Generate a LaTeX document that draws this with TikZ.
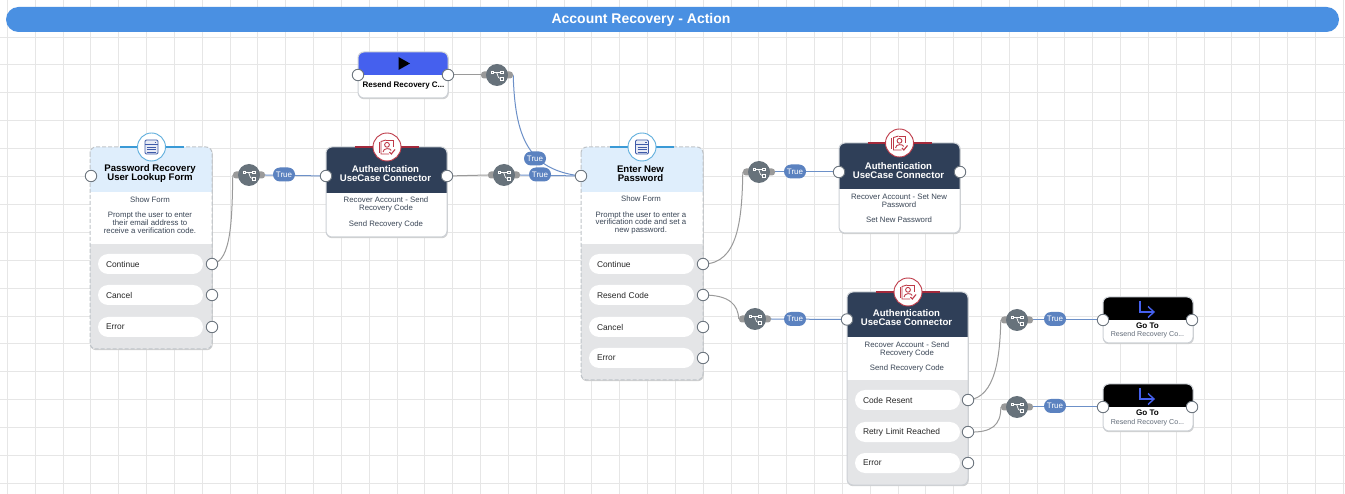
\documentclass[tikz,border=0pt]{standalone}
\usepackage{fontspec}
\setmainfont{Liberation Sans}
\usetikzlibrary{backgrounds}
\definecolor{gridc}{HTML}{E6E6E6}
\definecolor{barc}{HTML}{4A90E2}
\definecolor{formhdr}{HTML}{DFEEFC}
\definecolor{darkhdr}{HTML}{2F3F58}
\definecolor{bandc}{HTML}{E4E5E7}
\definecolor{edgec}{HTML}{CDD1D6}
\definecolor{dashc}{HTML}{BFC4C9}
\definecolor{portc}{HTML}{6E7780}
\definecolor{switchc}{HTML}{67727B}
\definecolor{stubc}{HTML}{9A9A9A}
\definecolor{wireg}{HTML}{9A9A9A}
\definecolor{wireb}{HTML}{6C90C8}
\definecolor{truec}{HTML}{5B82C0}
\definecolor{iconblue}{HTML}{3F5BA9}
\definecolor{ringblue}{HTML}{5FAEDC}
\definecolor{barblue}{HTML}{3A9AD6}
\definecolor{iconred}{HTML}{BE3A48}
\definecolor{barred}{HTML}{A32A3C}
\definecolor{startc}{HTML}{4560EE}
\definecolor{txt}{HTML}{3A4656}
\pgfdeclarelayer{gridlayer}
\pgfdeclarelayer{wirelayer}
\pgfsetlayers{gridlayer,wirelayer,main}
\tikzset{
  px/.style={x=1pt,y=-1pt},
  portst/.style={circle,draw=portc,fill=white,line width=0.9pt,minimum size=11.5pt,inner sep=0pt},
  pillst/.style={fill=white,rounded corners=10pt,minimum width=105pt,minimum height=20pt,inner ysep=0pt,inner xsep=8pt,text width=89pt,align=left,font=\fontsize{8.4}{9}\selectfont,text=black!85},
  truest/.style={fill=truec,rounded corners=7pt,minimum width=22pt,minimum height=14pt,inner sep=0pt,text=white,font=\fontsize{8}{9}\selectfont},
  stubst/.style={fill=stubc,rounded corners=3pt,minimum width=32pt,minimum height=7pt,inner sep=0pt},
  swst/.style={circle,fill=switchc,minimum size=22pt,inner sep=0pt},
  ringst/.style={circle,fill=white,draw=#1,line width=0.9pt,minimum size=28pt,inner sep=0pt},
  titlest/.style={align=center,inner sep=0pt,font=\fontsize{9.6}{9}\bfseries\selectfont},
  descst/.style={align=center,inner sep=0pt,text=txt,font=\fontsize{7.8}{7.8}\selectfont},
  wireg/.style={draw=wireg,line width=1pt},
  wireb/.style={draw=wireb,line width=1pt},
}
% name, x1, y1, x2, y2, header colour, header bottom, band top, border style
\newcommand\cardbox[9]{%
  \node[inner sep=0pt,minimum width={#4-#2},minimum height={#5-#3}] (#1) at ({(#2+#4)/2},{(#3+#5)/2}) {};
  \fill[black!18,rounded corners=6pt] (#2,#3+1) rectangle (#4+0.8,#5+1.2);
  \begin{scope}
    \clip[rounded corners=6pt] (#2,#3) rectangle (#4,#5);
    \fill[white] (#2,#3) rectangle (#4,#5);
    \fill[#6] (#2,#3) rectangle (#4,#7);
    \fill[bandc] (#2,#8) rectangle (#4,#5);
  \end{scope}
  \draw[rounded corners=6pt,#9] (#2,#3) rectangle (#4,#5);
}
\newcommand\sw[3]{%
  \node[stubst] (#1-s) at (#2,#3) {};
  \node[swst] (#1) at (#2,#3) {};
  \begin{scope}[shift={(#2,#3)},white,line width=0.7pt]
    \draw (-3.5,-2.6) -- (3.5,-2.6);
    \draw (-1,-2.6) .. controls (1,-2.6) and (0,3.6) .. (3.5,3.6);
    \fill[switchc] (-6,-4) rectangle (-3.2,-1.2);
    \draw (-6,-4) rectangle (-3.2,-1.2);
    \fill[switchc] (3.2,-4) rectangle (6,-1.2);
    \draw (3.2,-4) rectangle (6,-1.2);
    \fill[switchc] (3.2,2.2) rectangle (6,5);
    \draw (3.2,2.2) rectangle (6,5);
  \end{scope}
}
\newcommand\formicon[3]{%
  \draw[barblue,line width=2pt] (#2-32,#3) -- (#2+32,#3);
  \node[ringst=ringblue] (#1) at (#2,#3) {};
  \begin{scope}[shift={(#2,#3)},iconblue,line width=0.9pt]
    \fill[iconblue!12,rounded corners=1.2pt] (-6.5,-7) rectangle (6.5,7);
    \draw[rounded corners=1.2pt] (-6.5,-7) rectangle (6.5,7);
    \draw (-6.5,-3) -- (6.5,-3);
    \draw (3,-5) -- (4.6,-5);
    \draw (-4.5,0) -- (4.5,0);
    \draw (-4.5,2.5) -- (4.5,2.5);
    \draw (-4.5,5) -- (4.5,5);
  \end{scope}
}
\newcommand\authicon[3]{%
  \draw[barred,line width=2pt] (#2-32,#3) -- (#2+32,#3);
  \node[ringst=iconred] (#1) at (#2,#3) {};
  \begin{scope}[shift={(#2,#3)},iconred,line width=0.9pt]
    \draw (-1,-7) -- (6,-7) -- (6,0);
    \draw (-1,-7) -- (-6,-5.5) -- (-6,7) -- (2,7);
    \draw (-8,-5) -- (-8,6.5);
    \draw (0,-2.2) circle (2.4);
    \draw (-4,5) .. controls (-4,0.8) and (4,0.8) .. (4.2,3.5);
    \draw[line width=1.1pt] (2.5,5) -- (4.3,7) -- (8,2.5);
  \end{scope}
}
\newcommand\gotoarrow[2]{%
  \begin{scope}[shift={(#1,#2)},draw=startc,line width=1.4pt]
    \draw (-7,-11) -- (-7,0) -- (6.5,0);
    \draw (1,-5.5) -- (7,0) -- (1,5.5);
  \end{scope}
}
\begin{document}
\begin{tikzpicture}[px]
\useasboundingbox (0,0) rectangle (1345,494);
\begin{pgfonlayer}{gridlayer}
  \fill[white] (0,0) rectangle (1345,494);
  \foreach \k in {0,...,48} {\draw[gridc,line width=0.9pt] ({7.4+27.83*\k},0) -- ({7.4+27.83*\k},494);}
  \foreach \k in {0,...,16} {\draw[gridc,line width=0.9pt] (0,{37+27.9*\k}) -- (1345,{37+27.9*\k});}
\end{pgfonlayer}

% title bar
\node[fill=barc,rounded corners=12.5pt,minimum width=1333pt,minimum height=25pt,inner sep=0pt] (banner) at (672.5,19.5) {};
\node[text=white,inner sep=0pt,font=\fontsize{14}{15}\bfseries\selectfont] (bannertext) at (641,19.5) {Account Recovery - Action};

% form 1
\cardbox{formA}{90}{147}{212}{349}{formhdr}{192}{244}{draw=dashc,line width=1pt,dash pattern=on 4pt off 2pt}
\formicon{formAicon}{151.5}{147}
\node[titlest] (formAtitle) at (150,173.5) {Password Recovery\\User Lookup Form};
\node[descst] (formAdesc) at (150,215) {Show Form\\[7.8pt]Prompt the user to enter\\their email address to\\receive a verification code.};
\node[pillst] (formAp1) at (150.5,264) {Continue};
\node[pillst] (formAp2) at (150.5,295) {Cancel};
\node[pillst] (formAp3) at (150.5,327) {Error};
\node[portst] (formAin) at (91,176) {};
\node[portst] (formAo1) at (212,264) {};
\node[portst] (formAo2) at (212,295) {};
\node[portst] (formAo3) at (212,327) {};

% connector 1
\cardbox{authA}{326}{147}{447}{237}{darkhdr}{193}{237}{draw=edgec,line width=1pt}
\authicon{authAicon}{387}{147}
\node[titlest,text=white] (authAtitle) at (385.5,173.5) {Authentication\\UseCase Connector};
\node[descst] (authAdesc) at (386,212.5) {Recover Account - Send\\Recovery Code\\[7.8pt]Send Recovery Code};
\node[portst] (authAin) at (326,176) {};
\node[portst] (authAout) at (447,176) {};

% start
\cardbox{start}{358}{52}{448}{98}{startc}{75}{98}{draw=edgec,line width=1pt}
\fill[black] (398.5,57) -- (410,63.5) -- (398.5,70) -- cycle;
\node[inner sep=0pt,font=\fontsize{8}{9}\bfseries\selectfont] (starttext) at (403.5,85) {Resend Recovery C...};
\node[portst] (startin) at (358,75) {};
\node[portst] (startout) at (448,75) {};

% form 2
\cardbox{formB}{581}{147}{703}{380}{formhdr}{192}{244}{draw=dashc,line width=1pt,dash pattern=on 4pt off 2pt}
\formicon{formBicon}{642}{147}
\node[titlest] (formBtitle) at (640.5,173.5) {Enter New\\Password};
\node[descst] (formBdesc) at (641,215) {Show Form\\[7.8pt]Prompt the user to enter a\\verification code and set a\\new password.};
\node[pillst] (formBp1) at (641.5,264) {Continue};
\node[pillst] (formBp2) at (641.5,295) {Resend Code};
\node[pillst] (formBp3) at (641.5,327) {Cancel};
\node[pillst] (formBp4) at (641.5,358) {Error};
\node[portst] (formBin) at (581,176) {};
\node[portst] (formBo1) at (703,264) {};
\node[portst] (formBo2) at (703,295) {};
\node[portst] (formBo3) at (703,327) {};
\node[portst] (formBo4) at (703,358) {};

% connector 2
\cardbox{authB}{839}{143}{960}{233}{darkhdr}{189}{233}{draw=edgec,line width=1pt}
\authicon{authBicon}{899.5}{143}
\node[titlest,text=white] (authBtitle) at (898.5,170.5) {Authentication\\UseCase Connector};
\node[descst] (authBdesc) at (899,208.5) {Recover Account - Set New\\Password\\[7.8pt]Set New Password};
\node[portst] (authBin) at (839,172) {};
\node[portst] (authBout) at (960,172) {};

% connector 3
\cardbox{authC}{847}{292}{968}{485}{darkhdr}{337}{380}{draw=edgec,line width=1pt}
\authicon{authCicon}{908}{292}
\node[titlest,text=white] (authCtitle) at (906.5,318) {Authentication\\UseCase Connector};
\node[descst] (authCdesc) at (907,357) {Recover Account - Send\\Recovery Code\\[7.8pt]Send Recovery Code};
\node[pillst] (authCp1) at (907.5,400) {Code Resent};
\node[pillst] (authCp2) at (907.5,432) {Retry Limit Reached};
\node[pillst] (authCp3) at (907.5,463) {Error};
\node[portst] (authCin) at (847,319.5) {};
\node[portst] (authCo1) at (968,400) {};
\node[portst] (authCo2) at (968,432) {};
\node[portst] (authCo3) at (968,463) {};

% go to 1
\cardbox{gotoA}{1103}{297}{1193}{343}{black}{320}{343}{draw=edgec,line width=1pt}
\gotoarrow{1147}{312}
\node[inner sep=0pt,font=\fontsize{8.1}{9}\bfseries\selectfont] (gotoAt) at (1147.5,325.5) {Go To};
\node[inner sep=0pt,text=txt!80,font=\fontsize{7.1}{9}\selectfont] (gotoAs) at (1147.5,334.5) {Resend Recovery Co...};
\node[portst] (gotoAin) at (1103,320) {};
\node[portst] (gotoAout) at (1192,320) {};

% go to 2
\cardbox{gotoB}{1103}{384}{1193}{431}{black}{407}{431}{draw=edgec,line width=1pt}
\gotoarrow{1147}{399}
\node[inner sep=0pt,font=\fontsize{8.1}{9}\bfseries\selectfont] (gotoBt) at (1147.5,412.5) {Go To};
\node[inner sep=0pt,text=txt!80,font=\fontsize{7.1}{9}\selectfont] (gotoBs) at (1147.5,422.5) {Resend Recovery Co...};
\node[portst] (gotoBin) at (1103,407) {};
\node[portst] (gotoBout) at (1192,407) {};

% switches
\sw{swA}{249}{175}
\sw{swB}{497}{75}
\sw{swC}{504}{175}
\sw{swD}{759}{172}
\sw{swE}{755}{319}
\sw{swF}{1017}{320}
\sw{swG}{1017}{407}

% true labels
\node[truest] (trA) at (284,174.5) {True};
\node[truest] (trB) at (535,158.5) {True};
\node[truest] (trC) at (540,174.5) {True};
\node[truest] (trD) at (795,171.5) {True};
\node[truest] (trE) at (795,319) {True};
\node[truest] (trF) at (1055,319) {True};
\node[truest] (trG) at (1055,406) {True};

% connectors
\begin{pgfonlayer}{wirelayer}
  \draw[wireg] (formAo1.center) .. controls (232,262) and (232,215) .. (swA-s.west);
  \draw[wireb] (swA-s.east) -- (authAin.center);
  \draw[wireg] (authAout.center) -- (swC-s.west);
  \draw[wireb] (swC-s.east) -- (formBin.center);
  \draw[wireg] (startout.center) -- (swB-s.west);
  \draw[wireb] (swB-s.east) .. controls (515,135) and (527,170) .. (formBin.center);
  \draw[wireg] (formBo1.center) .. controls (738,264) and (742,220) .. (swD-s.west);
  \draw[wireb] (swD-s.east) -- (authBin.center);
  \draw[wireg] (formBo2.center) .. controls (730,295) and (738,305) .. (swE-s.west);
  \draw[wireb] (swE-s.east) -- (authCin.center);
  \draw[wireg] (authCo1.center) .. controls (996,398) and (1000,355) .. (swF-s.west);
  \draw[wireb] (swF-s.east) -- (gotoAin.center);
  \draw[wireg] (authCo2.center) .. controls (992,433) and (1001,425) .. (swG-s.west);
  \draw[wireb] (swG-s.east) -- (gotoBin.center);
\end{pgfonlayer}
\end{tikzpicture}
\end{document}
